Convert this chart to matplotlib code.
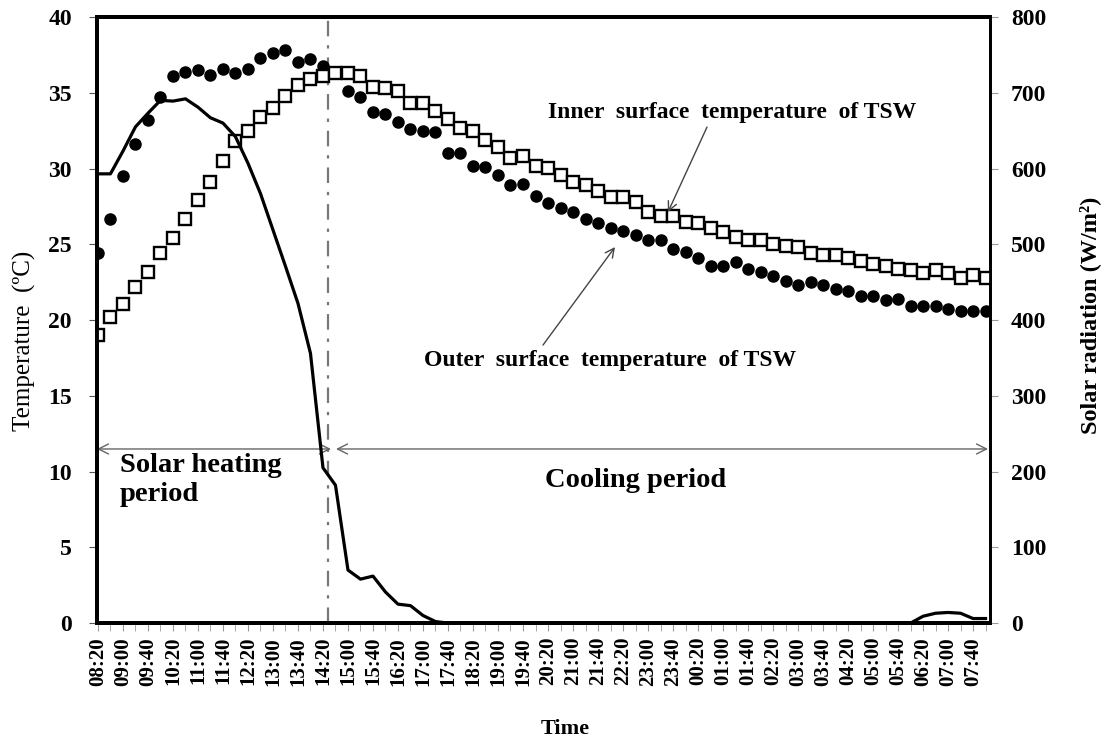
import matplotlib.pyplot as plt

plt.rcParams['font.family'] = 'Liberation Serif'

# tick labels shown on the category axis (every second 20-min step)
shown_labels = ['08:20', '09:00', '09:40', '10:20', '11:00', '11:40', '12:20', '13:00',
                '13:40', '14:20', '15:00', '15:40', '16:20', '17:00', '17:40', '18:20',
                '19:00', '19:40', '20:20', '21:00', '21:40', '22:20', '23:00', '23:40',
                '00:20', '01:00', '01:40', '02:20', '03:00', '03:40', '04:20', '05:00',
                '05:40', '06:20', '07:00', '07:40']

# outer surface temperature of TSW (degC), every 20 min from 08:20
outer_temp = [24.4, 26.7, 29.5, 31.6, 33.2, 34.7, 36.1, 36.4, 36.5, 36.2,
              36.6, 36.3, 36.6, 37.3, 37.6, 37.8, 37.0, 37.2, 36.8, 36.3,
              35.1, 34.7, 33.7, 33.6, 33.05, 32.6, 32.5, 32.4, 31.0, 31.0,
              30.2, 30.1, 29.6, 28.9, 29.0, 28.2, 27.7, 27.4, 27.1, 26.7,
              26.4, 26.05, 25.9, 25.6, 25.3, 25.3, 24.7, 24.5, 24.1, 23.6,
              23.6, 23.85, 23.4, 23.15, 22.9, 22.6, 22.3, 22.5, 22.3, 22.05,
              21.9, 21.6, 21.6, 21.3, 21.4, 20.9, 20.9, 20.9, 20.7, 20.6,
              20.6, 20.6]

# inner surface temperature of TSW (degC)
inner_temp = [19.0, 20.2, 21.05, 22.2, 23.2, 24.4, 25.4, 26.7, 27.9, 29.1,
              30.5, 31.8, 32.5, 33.4, 34.0, 34.8, 35.5, 35.9, 36.1, 36.3,
              36.3, 36.1, 35.4, 35.3, 35.1, 34.3, 34.3, 33.8, 33.3, 32.7,
              32.5, 31.9, 31.4, 30.7, 30.8, 30.2, 30.05, 29.6, 29.1, 28.9,
              28.5, 28.15, 28.15, 27.8, 27.15, 26.9, 26.9, 26.5, 26.4, 26.1,
              25.8, 25.5, 25.3, 25.3, 25.0, 24.9, 24.8, 24.4, 24.3, 24.3,
              24.1, 23.9, 23.7, 23.6, 23.4, 23.3, 23.1, 23.3, 23.1, 22.8,
              22.95, 22.75]

# solar radiation (W/m2)
solar = [593, 593, 623, 655, 673, 690, 689, 692, 681, 667,
         660, 642, 607, 567, 519, 471, 422, 356, 205, 182,
         70, 58, 62, 41, 25, 23, 10, 2, 0, 0,
         0, 0, 0, 0, 0, 0, 0, 0, 0, 0,
         0, 0, 0, 0, 0, 0, 0, 0, 0, 0,
         0, 0, 0, 0, 0, 0, 0, 0, 0, 0,
         0, 0, 0, 0, 0, 0, 9, 13, 14, 13,
         6, 6]

x = list(range(len(outer_temp)))

fig = plt.figure(figsize=(11.03, 7.4), dpi=100)
ax = fig.add_axes([0.0879, 0.158, 0.8097, 0.819])
ax2 = ax.twinx()

ax.plot(x, outer_temp, 'o', color='black', markersize=8, zorder=3)
ax.plot(x, inner_temp, 's', markerfacecolor='white', markeredgecolor='black',
        markeredgewidth=1.7, markersize=8.3, zorder=3)
ax2.plot(x, solar, '-', color='black', linewidth=2.3)

ax.set_xlim(-0.08, 71.36)
ax.set_ylim(0, 40)
ax2.set_ylim(0, 800)

ax.set_xticks(x[::2])
ax.set_xticklabels(shown_labels, rotation=90, fontsize=15, fontweight='bold')
ax.set_xticks(x, minor=True)
ax.tick_params(axis='x', which='both', length=6, color='#9a9a9a', direction='out', pad=4)
ax.set_yticks(range(0, 41, 5))
ax.tick_params(axis='y', length=6, color='#555555', labelsize=17, pad=12)
for lab in ax.get_yticklabels():
    lab.set_fontweight('bold')
ax2.set_yticks(range(0, 801, 100))
ax2.tick_params(axis='y', length=6, color='#9a9a9a', labelsize=17, pad=9)
for lab in ax2.get_yticklabels():
    lab.set_fontweight('bold')

for sp in ['left', 'bottom', 'top']:
    ax.spines[sp].set_linewidth(2.8)
ax.spines['right'].set_linewidth(2.0)
ax2.spines['right'].set_linewidth(2.0)
ax2.spines['top'].set_linewidth(2.8)
ax2.spines['left'].set_linewidth(2.8)
ax2.spines['bottom'].set_linewidth(2.8)

ax.set_ylabel('Temperature  (ºC)', fontsize=18)
ax.yaxis.set_label_coords(-0.068, 0.465)
ax2.set_ylabel('Solar radiation (W/m²)', fontsize=17.5, fontweight='bold')
ax2.yaxis.set_label_coords(1.1, 0.508)
ax.set_xlabel('Time', fontsize=16, fontweight='bold')
ax.xaxis.set_label_coords(0.524, -0.158)

# end of solar heating period
ax.axvline(18.44, color='#777777', linewidth=1.6, linestyle=(0, (7, 4, 1.5, 4)), zorder=1)

ax.annotate('', xy=(-0.08, 11.49), xytext=(18.64, 11.49),
            arrowprops=dict(arrowstyle='<->', color='#666666', lw=1.0,
                            shrinkA=0, shrinkB=0, mutation_scale=18))
ax.annotate('', xy=(19.04, 11.49), xytext=(71.2, 11.49),
            arrowprops=dict(arrowstyle='<->', color='#666666', lw=1.0,
                            shrinkA=0, shrinkB=0, mutation_scale=18))

ax.text(1.76, 11.2, 'Solar heating\nperiod', fontsize=20.5, fontweight='bold',
        ha='left', va='top', linespacing=1.2)
ax.text(43.0, 9.44, 'Cooling period', fontsize=20.5, fontweight='bold',
        ha='center', va='center')

ax.text(50.7, 33.7, 'Inner  surface  temperature  of TSW', fontsize=17,
        fontweight='bold', ha='center', va='center')
ax.annotate('', xy=(45.6, 27.13), xytext=(48.72, 32.74),
            arrowprops=dict(arrowstyle='->', color='#444444', lw=1.0,
                            shrinkA=0, shrinkB=0, mutation_scale=16))
ax.text(41.0, 17.3, 'Outer  surface  temperature  of TSW', fontsize=17,
        fontweight='bold', ha='center', va='center')
ax.annotate('', xy=(41.36, 24.82), xytext=(35.6, 18.35),
            arrowprops=dict(arrowstyle='->', color='#444444', lw=1.0,
                            shrinkA=0, shrinkB=0, mutation_scale=16))

fig.savefig('out.png', dpi=100)
